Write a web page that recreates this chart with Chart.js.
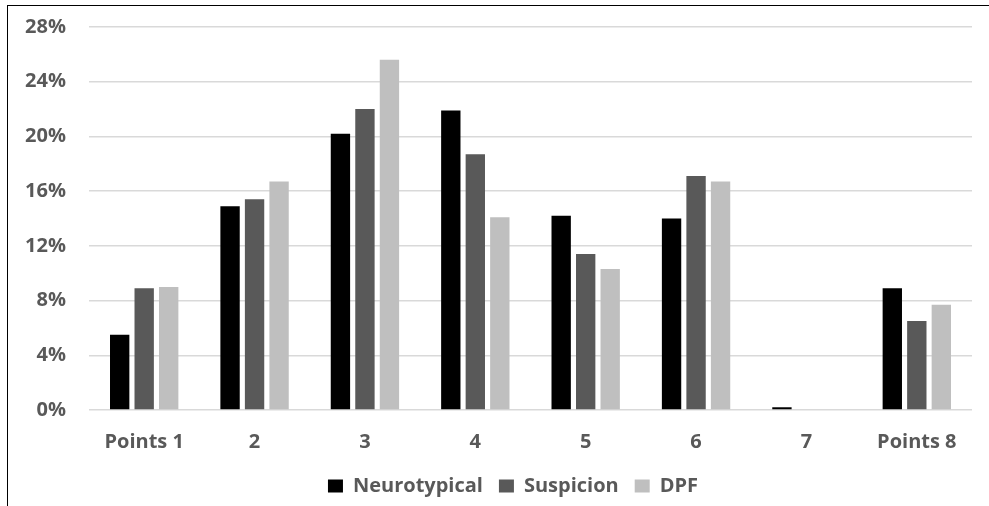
<!DOCTYPE html>
<html>
<head>
<meta charset="utf-8">
<script src="https://cdn.jsdelivr.net/npm/chart.js@4"></script>
<style>
  html, body { margin: 0; padding: 0; background: #fff; overflow: hidden; }
  #wrap { position: relative; width: 989px; height: 506px; }
  #frame {
    position: absolute; left: 7px; top: 5px; width: 982px; height: 501px;
    border-top: 1px solid #000; border-left: 1px solid #000; box-sizing: border-box;
  }
  #chart { position: absolute; left: 0; top: 0; }
</style>
</head>
<body>
<div id="wrap">
  <div id="frame"></div>
  <canvas id="chart" width="989" height="506"></canvas>
</div>
<script>
// categories (x axis)
const categories = ["Points 1", "2", "3", "4", "5", "6", "7", "Points 8"];

// series values in percent
const neurotypical = [5.5, 14.9, 20.2, 21.9, 14.2, 14.0, 0.2, 8.9];
const suspicion = [8.9, 15.4, 22.0, 18.7, 11.4, 17.1, 0, 6.5];
const dpf = [9.0, 16.7, 25.6, 14.1, 10.3, 16.7, 0, 7.7];

// y axis
const yMin = 0;
const yMax = 28;
const yStep = 4;

const textColor = "#595959";
const fontFamily = "'Open Sans', sans-serif";
const boldFont = { family: fontFamily, size: 20, weight: "bold" };

// legend is centred a bit right of the canvas middle, like the original
const legendShift = {
  id: "legendShift",
  afterLayout(chart) {
    chart.legend.left += 27;
    chart.legend.right += 27;
  },
};

const ctx = document.getElementById("chart").getContext("2d");
const chart = new Chart(ctx, {
  type: "bar",
  data: {
    labels: categories,
    datasets: [
      { label: "Neurotypical", data: neurotypical, backgroundColor: "#000000" },
      { label: "Suspicion", data: suspicion, backgroundColor: "#595959" },
      { label: "DPF", data: dpf, backgroundColor: "#bfbfbf" },
    ],
  },
  plugins: [legendShift],
  options: {
    responsive: false,
    animation: false,
    devicePixelRatio: 1,
    categoryPercentage: 0.666,
    barPercentage: 0.79,
    layout: {
      padding: { left: 0, right: 17, top: 27, bottom: 0 },
    },
    plugins: {
      tooltip: { enabled: false },
      legend: {
        position: "bottom",
        labels: {
          boxWidth: 15,
          boxHeight: 13,
          padding: 16,
          color: textColor,
          font: boldFont,
        },
      },
    },
    scales: {
      x: {
        afterFit: (scale) => { scale.height = 50; },
        grid: { display: false, drawTicks: false },
        border: { display: false },
        ticks: {
          color: textColor,
          padding: 20,
          maxRotation: 0,
          font: boldFont,
        },
      },
      y: {
        min: yMin,
        max: yMax,
        afterFit: (scale) => {
          scale.width = 89;
          scale.paddingTop = 0;
          scale.paddingBottom = 0;
        },
        grid: { color: "#d9d9d9", lineWidth: 1.5, drawTicks: false },
        border: { display: false },
        ticks: {
          stepSize: yStep,
          padding: 23,
          color: textColor,
          font: boldFont,
          callback: (v) => v + "%",
        },
      },
    },
  },
});
</script>
</body>
</html>
